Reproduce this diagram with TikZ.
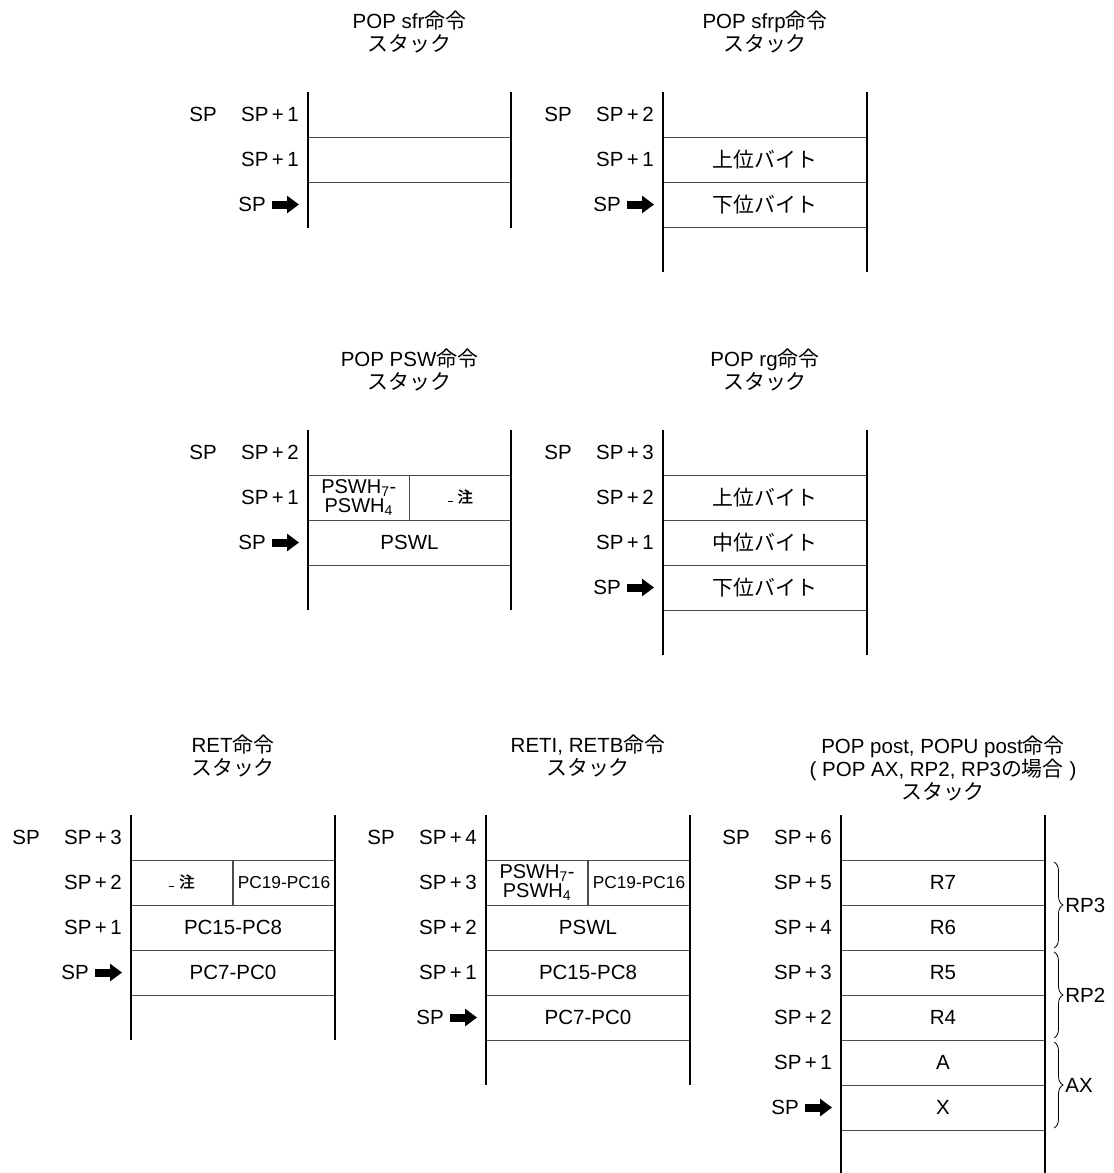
\documentclass[tikz,border=0pt]{standalone}
\usepackage{fontspec}
\setmainfont{Liberation Sans}
\newfontfamily\cjkfont[Scale=1.02]{Noto Sans CJK JP}
\newfontfamily\cjkbold[Scale=1.02,FakeBold=2]{Noto Sans CJK JP}
\newcommand\jp[1]{{\cjkfont #1}}
\newcommand\spn[1]{SP\hspace{3.5pt}+\hspace{3.5pt}#1}
\newcommand\nota{\raisebox{3pt}{\rule{5pt}{1.8pt}\hspace{5pt}{\cjkbold 注}}}
\usetikzlibrary{arrows.meta,decorations.pathreplacing}

\begin{document}
\begin{tikzpicture}[
    x=1pt, y=-1pt,
    % Estilos
    cell/.style={rectangle, draw=black!70, line width=1pt, minimum width=203pt, minimum height=45pt, inner sep=0pt, font=\fontsize{20.5}{22}\selectfont},
    halfcell/.style={cell, minimum width=101.5pt},
    pswcell/.style={halfcell, align=center, font=\fontsize{20}{19.5}\selectfont},
    pccell/.style={halfcell, font=\fontsize{17.3}{20}\selectfont},
    notacell/.style={halfcell, font=\fontsize{15}{16}\selectfont},
    wall/.style={line width=2.6pt, draw=black},
    lbl/.style={inner sep=0pt, font=\fontsize{20.5}{22}\selectfont},
    lblr/.style={lbl, anchor=east},
    titulo/.style={align=center, inner sep=0pt, font=\fontsize{20.5}{23}\selectfont},
    sparrow/.style={line width=8pt, -{Triangle[length=12pt,width=17pt]}, shorten <=6pt},
    grupo/.style={decorate, decoration={brace, amplitude=9pt}, line width=0.8pt}
]
\useasboundingbox (0,0) rectangle (1114,1173);

% --- POP sfr ---
\node[titulo] (tA) at (409.5,31.5) {POP sfr\jp{命令}\\\jp{スタック}};
\node[cell] (a1) at (409.5,159.5) {};
\draw[wall] (308,92) -- (308,228);
\draw[wall] (511,92) -- (511,228);
\node[lbl] (spA) at (203,114.5) {SP};
\node[lblr] (a0l) at (299,114.5) {\spn{1}};
\node[lblr] (a1l) at (299,159.5) {\spn{1}};
\node[lblr] (a2l) at (266,204.5) {SP};
\coordinate (tipA) at (299,204.5);
\draw[sparrow] (a2l.east) -- (tipA);

% --- POP sfrp ---
\node[titulo] (tB) at (765,31.5) {POP sfrp\jp{命令}\\\jp{スタック}};
\node[cell] (b1) at (765,159.5) {\jp{上位バイト}};
\node[cell] (b2) at (765,204.5) {\jp{下位バイト}};
\draw[wall] (663,92) -- (663,272);
\draw[wall] (867,92) -- (867,272);
\node[lbl] (spB) at (558,114.5) {SP};
\node[lblr] (b0l) at (654,114.5) {\spn{2}};
\node[lblr] (b1l) at (654,159.5) {\spn{1}};
\node[lblr] (b2l) at (621,204.5) {SP};
\coordinate (tipB) at (654,204.5);
\draw[sparrow] (b2l.east) -- (tipB);

% --- POP PSW ---
\node[titulo] (tC) at (409.5,369.5) {POP PSW\jp{命令}\\\jp{スタック}};
\node[pswcell] (c1a) at (358.75,497.5) {PSWH\textsubscript{7}-\\PSWH\textsubscript{4}};
\node[notacell] (c1b) at (460.25,497.5) {\nota};
\node[cell] (c2) at (409.5,542.5) {PSWL};
\draw[wall] (308,430) -- (308,610);
\draw[wall] (511,430) -- (511,610);
\node[lbl] (spC) at (203,452.5) {SP};
\node[lblr] (c0l) at (299,452.5) {\spn{2}};
\node[lblr] (c1l) at (299,497.5) {\spn{1}};
\node[lblr] (c2l) at (266,542.5) {SP};
\coordinate (tipC) at (299,542.5);
\draw[sparrow] (c2l.east) -- (tipC);

% --- POP rg ---
\node[titulo] (tD) at (765,369.5) {POP rg\jp{命令}\\\jp{スタック}};
\node[cell] (d1) at (765,497.5) {\jp{上位バイト}};
\node[cell] (d2) at (765,542.5) {\jp{中位バイト}};
\node[cell] (d3) at (765,587.5) {\jp{下位バイト}};
\draw[wall] (663,430) -- (663,655);
\draw[wall] (867,430) -- (867,655);
\node[lbl] (spD) at (558,452.5) {SP};
\node[lblr] (d0l) at (654,452.5) {\spn{3}};
\node[lblr] (d1l) at (654,497.5) {\spn{2}};
\node[lblr] (d2l) at (654,542.5) {\spn{1}};
\node[lblr] (d3l) at (621,587.5) {SP};
\coordinate (tipD) at (654,587.5);
\draw[sparrow] (d3l.east) -- (tipD);

% --- RET ---
\node[titulo] (tE) at (233,756) {RET\jp{命令}\\\jp{スタック}};
\node[notacell] (e1a) at (182,882.5) {\nota};
\node[pccell] (e1b) at (284,882.5) {PC19-PC16};
\node[cell, minimum width=204pt] (e2) at (233,927.5) {PC15-PC8};
\node[cell, minimum width=204pt] (e3) at (233,972.5) {PC7-PC0};
\draw[wall] (131,815) -- (131,1040);
\draw[wall] (335,815) -- (335,1040);
\node[lbl] (spE) at (26,837.5) {SP};
\node[lblr] (e0l) at (122,837.5) {\spn{3}};
\node[lblr] (e1l) at (122,882.5) {\spn{2}};
\node[lblr] (e2l) at (122,927.5) {\spn{1}};
\node[lblr] (e3l) at (89,972.5) {SP};
\coordinate (tipE) at (122,972.5);
\draw[sparrow] (e3l.east) -- (tipE);

% --- RETI, RETB ---
\node[titulo] (tF) at (588,756) {RETI, RETB\jp{命令}\\\jp{スタック}};
\node[pswcell] (f1a) at (537,882.5) {PSWH\textsubscript{7}-\\PSWH\textsubscript{4}};
\node[pccell] (f1b) at (639,882.5) {PC19-PC16};
\node[cell, minimum width=204pt] (f2) at (588,927.5) {PSWL};
\node[cell, minimum width=204pt] (f3) at (588,972.5) {PC15-PC8};
\node[cell, minimum width=204pt] (f4) at (588,1017.5) {PC7-PC0};
\draw[wall] (486,815) -- (486,1085);
\draw[wall] (690,815) -- (690,1085);
\node[lbl] (spF) at (381,837.5) {SP};
\node[lblr] (f0l) at (477,837.5) {\spn{4}};
\node[lblr] (f1l) at (477,882.5) {\spn{3}};
\node[lblr] (f2l) at (477,927.5) {\spn{2}};
\node[lblr] (f3l) at (477,972.5) {\spn{1}};
\node[lblr] (f4l) at (444,1017.5) {SP};
\coordinate (tipF) at (477,1017.5);
\draw[sparrow] (f4l.east) -- (tipF);

% --- POP post, POPU post ---
\node[titulo] (tG) at (943,768) {POP post, POPU post\jp{命令}\\( POP AX, RP2, RP3\jp{の場合} )\\\jp{スタック}};
\node[cell, minimum width=204pt] (g1) at (943,882.5) {R7};
\node[cell, minimum width=204pt] (g2) at (943,927.5) {R6};
\node[cell, minimum width=204pt] (g3) at (943,972.5) {R5};
\node[cell, minimum width=204pt] (g4) at (943,1017.5) {R4};
\node[cell, minimum width=204pt] (g5) at (943,1062.5) {A};
\node[cell, minimum width=204pt] (g6) at (943,1107.5) {X};
\draw[wall] (841,815) -- (841,1173);
\draw[wall] (1045,815) -- (1045,1173);
\node[lbl] (spG) at (736,837.5) {SP};
\node[lblr] (g0l) at (832,837.5) {\spn{6}};
\node[lblr] (g1l) at (832,882.5) {\spn{5}};
\node[lblr] (g2l) at (832,927.5) {\spn{4}};
\node[lblr] (g3l) at (832,972.5) {\spn{3}};
\node[lblr] (g4l) at (832,1017.5) {\spn{2}};
\node[lblr] (g5l) at (832,1062.5) {\spn{1}};
\node[lblr] (g6l) at (799,1107.5) {SP};
\coordinate (tipG) at (832,1107.5);
\draw[sparrow] (g6l.east) -- (tipG);

% Llaves de los pares de registros
\coordinate (rp3a) at (1054,862);
\coordinate (rp3b) at (1054,948);
\coordinate (rp2a) at (1054,952);
\coordinate (rp2b) at (1054,1038);
\coordinate (axa) at (1054,1042);
\coordinate (axb) at (1054,1128);
\draw[grupo] (rp3a) -- (rp3b) node[lbl, midway, anchor=west, xshift=11pt] (rp3) {RP3};
\draw[grupo] (rp2a) -- (rp2b) node[lbl, midway, anchor=west, xshift=11pt] (rp2) {RP2};
\draw[grupo] (axa) -- (axb) node[lbl, midway, anchor=west, xshift=11pt] (ax) {AX};

\end{tikzpicture}
\end{document}
